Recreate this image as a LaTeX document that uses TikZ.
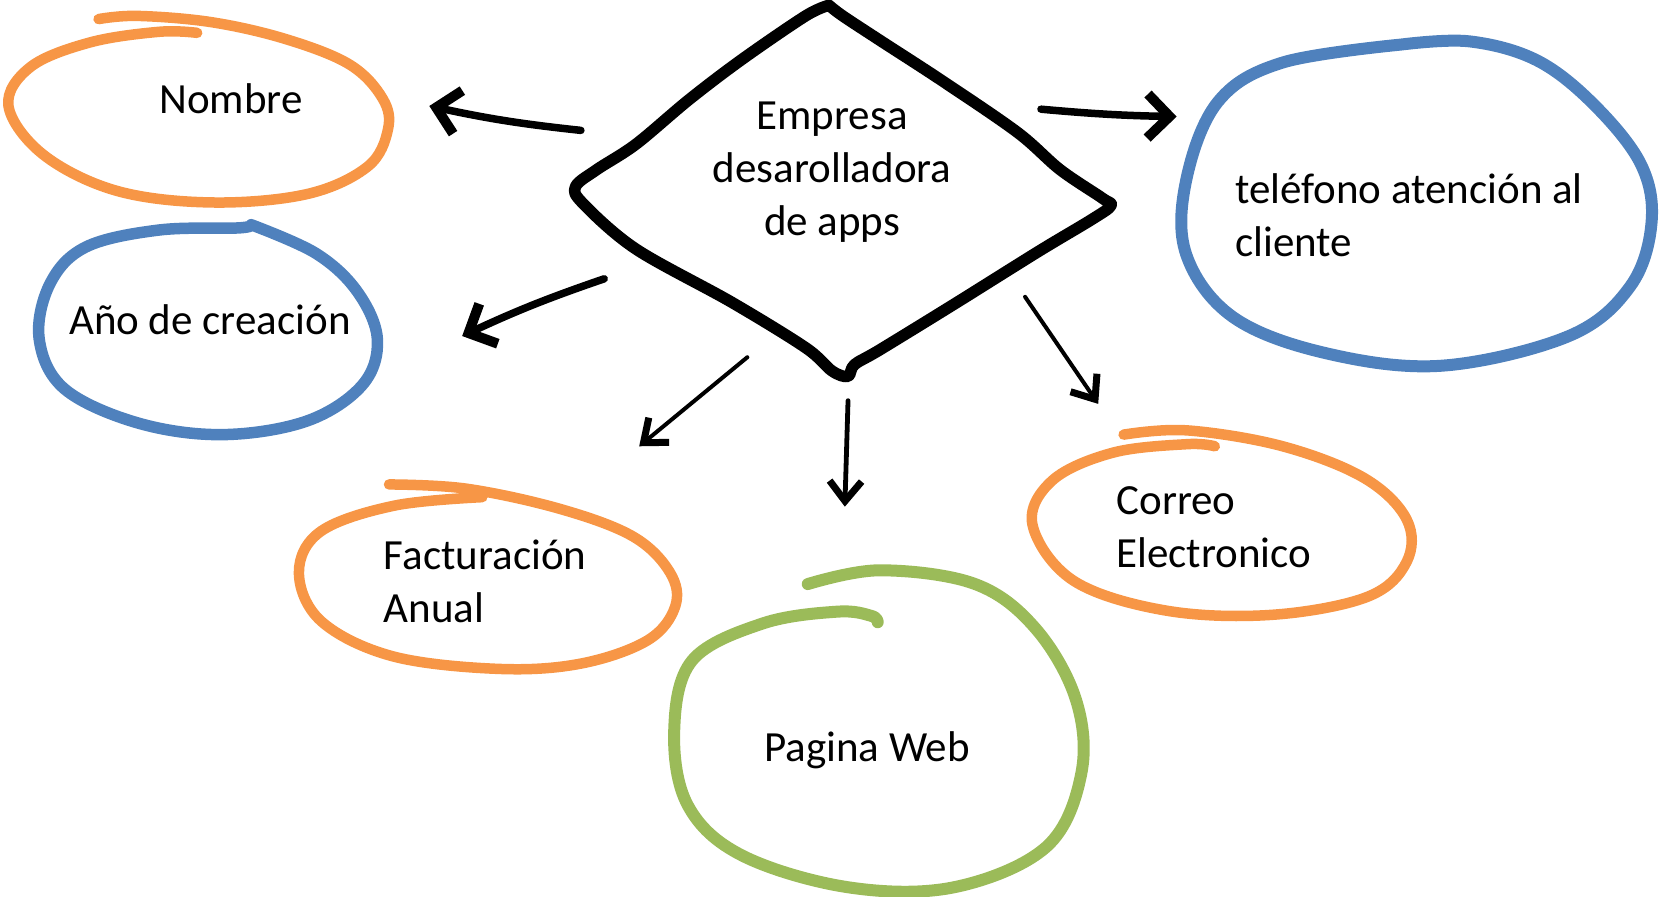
\documentclass[tikz,border=0pt]{standalone}
\usepackage{fontspec}
\setmainfont{Carlito}
\usetikzlibrary{arrows.meta}
\definecolor{orng}{HTML}{F79646}
\definecolor{blu}{HTML}{4F81BD}
\definecolor{grn}{HTML}{9BBB59}
\begin{document}
\begin{tikzpicture}[x=1.06pt,y=-1.06pt,
  lbl/.style={font=\fontsize{43}{53}\selectfont, inner sep=0pt},
  ring/.style={line width=10.5pt, line cap=round, line join=round},
  thickarrow/.style={line width=7.5pt, line cap=round, line join=round, -{Straight Barb[length=22pt,width=44pt,line width=10pt]}},
  thinarrow/.style={line width=4pt, line cap=round, line join=round, -{Straight Barb[length=20pt,width=32pt,line width=7pt]}}]
\useasboundingbox (0,0) rectangle (1566,846);

% central diamond
\draw[line width=11.5pt, line join=round, line cap=round] plot[smooth, tension=0.55] coordinates {
 (782,5) (760,15) (700,56) (650,94) (600,136) (563,160) (543,176) (550,192) (600,235) (690,285) (760,328) (785,350) (800,355)
 (806,344) (830,330) (900,287) (980,237) (1030,207) (1048,194) (1040,187) (1000,160) (960,125) (890,77) (830,38) (795,15) (782,5)};
\node[lbl, align=center] (emp) at (785,162) {Empresa\\desarolladora\\de apps};

% Nombre
\draw[ring, orng] plot[smooth, tension=0.6] coordinates {
 (93,18) (130,15) (200,21) (270,37) (330,61) (361,93) (366,122) (347,157) (290,183) (200,191) (110,180) (41,146) (8,100) (29,63) (85,40) (150,30) (186,31)};
\node[lbl] (nom) at (218,93) {Nombre};

% Año de creación
\draw[ring, blu, line width=11.5pt] plot[smooth, tension=0.6] coordinates {
 (237,212) (298,239) (337,275) (356,320) (342,363) (290,397) (210,410) (130,399) (61,367) (37,320) (47,268) (81,233) (150,217) (225,215) (237,212)};
\node[lbl] (ano) at (198,302) {Año de creación};

% teléfono
\draw[ring, blu, line width=12pt] plot[smooth, tension=0.6] coordinates {
 (1322,42) (1386,39) (1450,57) (1504,99) (1548,155) (1558,210) (1538,270) (1480,317) (1360,345) (1250,333) (1163,299) (1119,240) (1119,170) (1149,96) (1210,59) (1322,42)};
\node[lbl, align=left, anchor=west] (tel) at (1165,203) {teléfono atención al\\cliente};

% Facturación Anual
\draw[ring, orng] plot[smooth, tension=0.6] coordinates {
 (367,457) (440,461) (528,480) (597,506) (632,540) (637,572) (611,604) (548,626) (470,631) (370,619) (303,586) (282,540) (303,501) (372,477) (455,469)};
\node[lbl, align=left, anchor=west] (fac) at (362,548) {Facturación\\Anual};

% Pagina Web
\draw[ring, grn, line width=12pt] plot[smooth, tension=0.6] coordinates {
 (762,551) (830,538) (920,551) (977,593) (1015,660) (1020,730) (987,799) (900,837) (800,837) (700,807) (649,760) (636,690) (653,623) (720,588) (790,577) (822,581) (828,587)};
\node[lbl] (web) at (818,708) {Pagina Web};

% Correo Electronico
\draw[ring, orng] plot[smooth, tension=0.6] coordinates {
 (1060,410) (1120,406) (1210,421) (1287,451) (1327,490) (1327,530) (1290,563) (1200,580) (1100,576) (1013,548) (974,495) (993,453) (1050,427) (1120,419) (1146,421)};
\node[lbl, align=left, anchor=west] (cor) at (1053,497) {Correo\\Electronico};

% arrows
\coordinate (a1s) at (548,123); \coordinate (a1e) at (405,100);
\coordinate (a2s) at (570,263); \coordinate (a2e) at (436,317);
\coordinate (a3s) at (705,337); \coordinate (a3e) at (603,421);
\coordinate (a4s) at (800,378); \coordinate (a4e) at (797,478);
\coordinate (a5s) at (967,280); \coordinate (a5e) at (1036,381);
\coordinate (a6s) at (982,103); \coordinate (a6e) at (1110,110);
\draw[thickarrow] (a1s) to[bend left=3] (a1e);
\draw[thickarrow] (a2s) to[bend right=3] (a2e);
\draw[thinarrow] (a3s) -- (a3e);
\draw[thinarrow, line width=4.8pt] (a4s) -- (a4e);
\draw[thinarrow] (a5s) -- (a5e);
\draw[thickarrow] (a6s) to[bend right=2] (a6e);
\end{tikzpicture}
\end{document}
